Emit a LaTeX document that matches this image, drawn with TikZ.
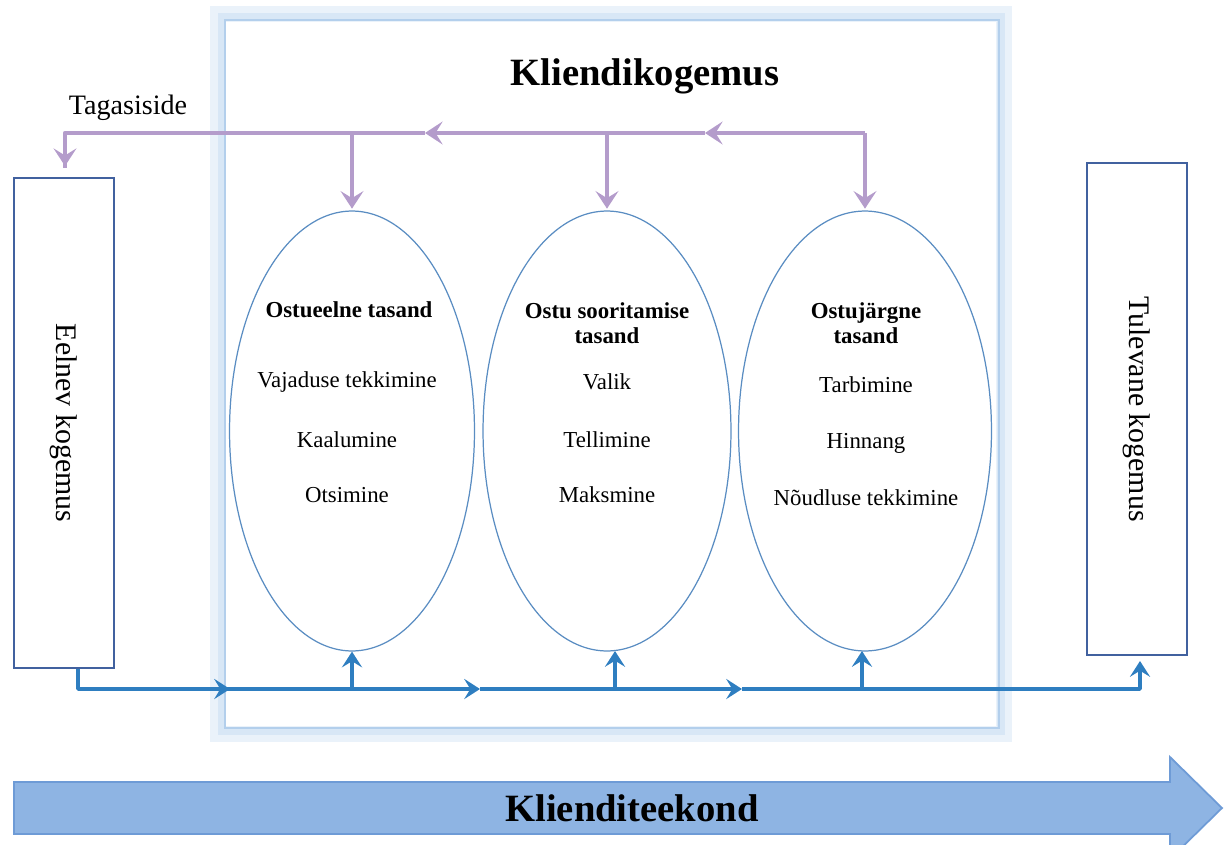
\documentclass[tikz,border=0pt]{standalone}
\usepackage{fontspec}
\setmainfont{Liberation Serif}
\usetikzlibrary{arrows.meta,shapes.geometric}
\definecolor{fbc}{HTML}{B49CCB}
\definecolor{flc}{HTML}{2E7EC0}
\definecolor{elc}{HTML}{5A8DC2}
\definecolor{bxc}{HTML}{41619F}
\definecolor{frA}{HTML}{EAF2FA}
\definecolor{frM}{HTML}{D8E7F6}
\definecolor{frB}{HTML}{B3CFEC}
\definecolor{arF}{HTML}{8EB4E3}
\definecolor{arD}{HTML}{6E9BD6}
\tikzset{
  fbline/.style={draw=fbc, line width=2.7pt},
  fbarrow/.style={fbline, -{Stealth[length=10pt,width=13pt,inset=4pt]}},
  flline/.style={draw=flc, line width=2.1pt},
  flarrow/.style={flline, -{Stealth[length=9pt,width=11.5pt,inset=3.5pt]}},
  phase/.style={ellipse, draw=elc, line width=0.7pt, fill=white, inner sep=0pt,
     minimum width=4.9cm, minimum height=8.8cm},
  sidebox/.style={draw=bxc, line width=0.9pt, fill=white, inner sep=0pt,
     minimum width=2cm, minimum height=9.8cm},
  sidetext/.style={rotate=-90, font=\fontsize{17}{20}\selectfont},
  head/.style={font=\fontsize{13}{15}\selectfont\bfseries, align=center},
  item/.style={font=\fontsize{13}{15}\selectfont},
  big/.style={font=\fontsize{22}{26}\selectfont\bfseries}
}
\begin{document}
\begin{tikzpicture}[x=0.02cm,y=-0.02cm]
\useasboundingbox (0,0) rectangle (1227,845);
\clip (0,0) rectangle (1227,845);

% frame
\draw[frA, line width=9pt] (218,14) rectangle (1004,734);
\draw[frM, line width=4pt] (222,17) rectangle (1001,731);
\draw[frB, line width=1.5pt] (225,20) rectangle (999,728);

\node[big] (title) at (645,76) {Kliendikogemus};
\node[font=\fontsize{16}{19}\selectfont] (tag) at (128,108) {Tagasiside};

% side boxes
\node[sidebox, minimum height=9.8cm] (eelnev) at (64,423) {};
\node[sidetext] (eelnevT) at (eelnev.center) {Eelnev kogemus};
\node[sidebox, minimum height=9.84cm] (tulevane) at (1137,409) {};
\node[sidetext] (tulevaneT) at (tulevane.center) {Tulevane kogemus};

% phases
\node[phase, minimum width=4.9cm] (e1) at (352,431) {};
\node[phase, minimum width=4.96cm] (e2) at (607,431) {};
\node[phase, minimum width=5.06cm] (e3) at (865,431) {};

\node[head] (h1) at (349,310) {Ostueelne tasand};
\node[item] (a1) at (347,382) {Vajaduse tekkimine};
\node[item] (b1) at (347,440) {Kaalumine};
\node[item] (c1) at (347,495) {Otsimine};

\node[head] (h2) at (607,323) {Ostu sooritamise\\[-1pt]tasand};
\node[item] (a2) at (607,382) {Valik};
\node[item] (b2) at (607,440) {Tellimine};
\node[item] (c2) at (607,495) {Maksmine};

\node[head] (h3) at (866,323) {Ostujärgne\\[-1pt]tasand};
\node[item] (a3) at (866,385) {Tarbimine};
\node[item] (b3) at (866,443) {Hinnang};
\node[item] (c3) at (866,498) {Nõudluse tekkimine};

% feedback line
\coordinate (fR) at (865,133);
\coordinate (fM2) at (705,133);
\coordinate (fM1) at (425,133);
\coordinate (fL) at (65,133);
\coordinate (fEnd) at (65,166);
\coordinate (f1) at (352,133);
\coordinate (f2) at (607,133);
\draw[fbarrow] (fR) -- (fM2);
\draw[fbarrow] (fM2) -- (fM1);
\draw[fbline, line join=round] (fM1) -- (fL) -- ([yshift=-1pt]fEnd);
\draw[fbarrow] (fL) -- (fEnd);
\draw[fbarrow] (f1) -- ([yshift=1pt]e1.north);
\draw[fbarrow] (f2) -- ([yshift=1pt]e2.north);
\draw[fbarrow] (fR) -- ([yshift=1pt]e3.north);

% flow line
\coordinate (s0) at (78,669);
\coordinate (s1) at (78,689);
\coordinate (m1) at (230,689);
\coordinate (m2) at (480,689);
\coordinate (m3) at (742,689);
\coordinate (g1) at (352,689);
\coordinate (g2) at (615,689);
\coordinate (g3) at (862,689);
\coordinate (r1) at (1140,689);
\draw[flline, line join=round] (s0) -- (s1) -- (m1);
\draw[flarrow] (s1) -- (m1);
\draw[flarrow] (m1) -- (m2);
\draw[flarrow] (m2) -- (m3);
\draw[flline, line join=round] (m3) -- (r1) -- ++(0,-10);
\draw[flarrow] (r1) -- ([yshift=-3pt]tulevane.south -| r1);
\draw[flarrow] (g1) -- (e1.south);
\draw[flarrow] (g2) -- (615,651);
\draw[flarrow] (g3) -- (862,651);

% journey arrow
\draw[draw=arD, fill=arF, line width=1pt, line join=miter]
  (14,782) -- (1170,782) -- (1170,757) -- (1222,808) -- (1170,859) -- (1170,834) -- (14,834) -- cycle;
\node[big] (journey) at (632,808) {Klienditeekond};
\end{tikzpicture}
\end{document}
